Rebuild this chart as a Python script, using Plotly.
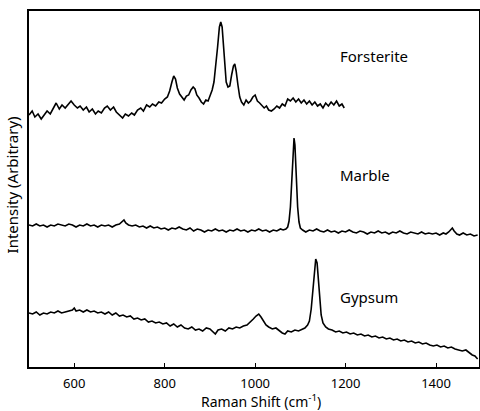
import plotly.graph_objects as go

forsterite_x = [500,507,513,520,527,533,540,547,553,560,567,573,580,587,593,600,607,613,620,627,633,640,647,653,660,667,673,680,687,693,700,707,713,720,727,733,740,747,753,760,767,773,780,787,793,800,806,811,816,820,824,828,833,838,843,848,853,858,863,867,871,876,881,886,891,896,901,905,909,913,917,921,924,927,930,933,936,940,944,948,952,955,958,962,966,970,975,980,985,990,995,1000,1005,1010,1015,1020,1025,1030,1036,1042,1048,1054,1060,1066,1072,1078,1084,1090,1096,1102,1108,1114,1120,1126,1132,1138,1144,1150,1156,1162,1168,1174,1180,1186,1192,1197]
forsterite_y = [252,256,250,253,248,252,256,253,258,264,258,262,259,263,266,262,259,261,257,260,255,258,253,256,254,259,261,257,260,255,252,249,253,251,254,252,257,259,256,262,260,263,261,265,264,268,270,276,285,291,288,279,273,270,267,271,272,277,280,278,272,269,265,263,267,266,272,277,285,300,320,340,345,340,320,296,285,280,281,292,301,303,296,282,270,265,262,267,264,266,270,272,266,264,262,259,261,257,256,258,261,259,263,261,268,266,269,265,268,264,267,263,266,262,265,261,263,259,264,261,265,262,266,261,263,259]

marble_x = [500,508,516,524,532,540,548,556,564,572,580,588,596,604,612,620,628,636,644,652,660,668,676,684,692,700,706,710,714,720,728,736,744,752,760,768,776,784,792,800,808,816,824,832,840,848,856,864,872,880,888,896,904,912,920,928,936,944,952,960,968,976,984,992,1000,1008,1016,1024,1032,1040,1048,1056,1062,1068,1072,1075,1078,1081,1084,1086,1088,1091,1094,1097,1100,1105,1112,1120,1128,1136,1144,1152,1160,1168,1176,1184,1192,1200,1208,1216,1224,1232,1240,1248,1256,1264,1272,1280,1288,1296,1304,1312,1320,1328,1336,1344,1352,1360,1368,1376,1384,1392,1400,1408,1416,1422,1428,1432,1436,1440,1446,1452,1460,1468,1476,1484,1492]
marble_y = [142,141,143,141,142,140,142,141,143,142,141,143,142,140,142,141,143,141,142,140,142,141,142,140,142,143,145,147,144,142,141,142,140,141,139,141,139,140,138,139,137,139,138,140,138,137,139,136,138,137,135,137,136,138,136,137,135,137,136,138,136,137,135,137,136,138,136,137,135,137,136,138,137,138,140,146,160,190,220,229,222,190,160,145,139,137,135,137,136,138,136,135,137,135,136,134,136,135,137,135,134,136,135,133,135,134,136,134,135,133,135,134,136,134,133,135,134,133,135,133,134,133,134,132,134,133,135,137,139,136,133,132,134,132,133,131,132]

gypsum_x = [500,508,516,524,532,540,548,556,564,572,580,588,596,600,604,612,620,628,636,644,652,660,668,676,684,692,700,708,716,724,732,740,748,756,764,772,780,788,796,804,812,820,828,836,844,852,860,868,876,884,892,900,906,912,918,926,934,942,950,958,966,974,982,990,996,1002,1008,1013,1018,1024,1030,1038,1046,1054,1060,1066,1072,1080,1088,1096,1104,1110,1116,1120,1124,1128,1131,1134,1137,1140,1143,1146,1150,1156,1162,1170,1178,1186,1194,1202,1210,1218,1226,1234,1242,1250,1258,1266,1274,1282,1290,1298,1306,1314,1322,1330,1338,1346,1354,1362,1370,1378,1386,1394,1402,1410,1418,1426,1434,1442,1450,1458,1466,1474,1480,1486,1492]
gypsum_y = [54,53,55,52,54,53,55,54,56,54,55,56,57,59,56,57,55,57,55,56,54,55,53,55,52,54,51,52,50,51,48,49,47,48,45,46,44,45,43,44,41,43,40,42,39,38,40,37,38,36,39,38,35,33,37,38,36,39,38,40,39,41,42,45,48,51,53,50,46,42,40,38,39,36,34,33,36,35,37,36,38,39,42,46,58,78,98,108,104,88,70,52,44,40,38,37,35,36,34,35,33,34,32,33,31,32,30,31,29,30,28,29,27,28,26,27,25,26,24,25,23,24,22,21,22,20,21,19,20,18,17,16,17,14,12,11,8]

labels = ["Forsterite", "Marble", "Gypsum"]
label_x = [1184, 1184, 1184]
label_y = [311, 192, 70]

x_ticks = [600, 800, 1000, 1200, 1400]
x_title = "Raman Shift (cm<sup>-1</sup>)"
y_title = "Intensity (Arbitrary)"

FONT = "'Noto Sans', 'DejaVu Sans', sans-serif"

fig = go.Figure()
for xs, ys in [(forsterite_x, forsterite_y), (marble_x, marble_y), (gypsum_x, gypsum_y)]:
    fig.add_trace(go.Scatter(x=xs, y=ys, mode="lines",
                             line=dict(color="black", width=1.6),
                             showlegend=False, hoverinfo="skip"))

for t, lx, ly in zip(labels, label_x, label_y):
    fig.add_annotation(x=lx, y=ly, text=t, showarrow=False, xanchor="left",
                       yanchor="middle", font=dict(size=15, color="black", family=FONT))

fig.add_annotation(xref="paper", yref="paper", x=0.515, y=0, yshift=-34,
                   text=x_title, showarrow=False, xanchor="center", yanchor="middle",
                   font=dict(size=14, color="black", family=FONT))
fig.add_annotation(xref="paper", yref="paper", x=0, y=0.51, xshift=-17,
                   text=y_title, showarrow=False, textangle=-90,
                   xanchor="center", yanchor="middle",
                   font=dict(size=15, color="black", family=FONT))

fig.update_layout(
    width=480, height=411,
    margin=dict(l=29, r=1, t=11, b=44),
    paper_bgcolor="white", plot_bgcolor="white",
    font=dict(family=FONT, color="black", size=14),
    xaxis=dict(range=[500, 1495], tickvals=x_ticks, ticks="inside", ticklen=4,
               tickcolor="black", showline=True, linecolor="black", linewidth=2,
               mirror=True, showgrid=False, zeroline=False, automargin=False,
               ticklabelstandoff=3,
               tickfont=dict(size=13, family=FONT)),
    yaxis=dict(range=[0, 356], showticklabels=False, ticks="", showline=True,
               linecolor="black", linewidth=2, mirror=True, showgrid=False,
               zeroline=False, automargin=False),
)

fig.write_html("out.html", config={"displayModeBar": False},
               post_script="document.body.style.margin='0';document.body.style.overflow='hidden';")
